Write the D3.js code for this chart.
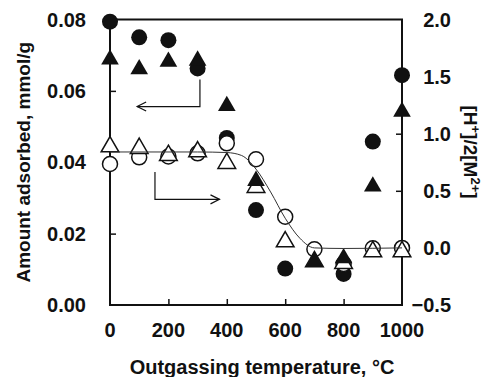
<!DOCTYPE html>
<html>
<head>
<meta charset="utf-8">
<script src="https://cdn.jsdelivr.net/npm/d3@7"></script>
<style>
  body { margin: 0; background: #fff; }
  text { font-family: "Liberation Sans", Arial, sans-serif; font-weight: bold; fill: #111; }
</style>
</head>
<body>
<svg id="chart"></svg>
<script>
const width = 488;
const height = 377;
const margin = { top: 19.5, right: 86, bottom: 72, left: 110 };

// outgassing temperature, deg C
const temps = [0, 100, 200, 300, 400, 500, 600, 700, 800, 900, 1000];

// amount adsorbed (left axis), filled markers
const adsCircle = [0.0794, 0.075, 0.0742, 0.0663, 0.0468, 0.0266, 0.0102, null, 0.0087, 0.0458, 0.0644];
const adsTriangle = [0.0688, 0.0661, 0.0682, 0.0685, 0.0558, 0.0348, null, 0.0121, 0.0131, 0.0332, 0.0542];

// [H+]/2[M2+] (right axis), open markers
const ratioCircle = [0.735, 0.793, 0.80, 0.828, 0.916, 0.776, 0.273, -0.012, -0.14, -0.004, 0.0];
const ratioTriangle = [0.886, 0.872, 0.81, 0.842, 0.74, 0.53, 0.054, -0.12, -0.135, -0.033, -0.033];

// fitted curve
const fitTemps = [0, 300, 400, 450, 500, 550, 600, 650, 700, 800, 1000];
const fitRatio = [0.84, 0.84, 0.835, 0.81, 0.69, 0.49, 0.26, 0.085, 0.0, -0.005, 0.0];

const xTicks = [0, 200, 400, 600, 800, 1000];
const yLeftTicks = [0, 0.02, 0.04, 0.06, 0.08];
const yRightTicks = [-0.5, 0, 0.5, 1.0, 1.5, 2.0];

const svg = d3.select("#chart").attr("width", width).attr("height", height);

const x = d3.scaleLinear().domain([0, 1000]).range([margin.left, width - margin.right]);
const yL = d3.scaleLinear().domain([0, 0.08]).range([height - margin.bottom, margin.top]);
const yR = d3.scaleLinear().domain([-0.5, 2.0]).range([height - margin.bottom, margin.top]);

const x0 = margin.left, x1 = width - margin.right;
const yTop = margin.top, yBot = height - margin.bottom;

// axes: tick marks drawn inward, labels separately
const inner = 6;

svg.append("g")
  .attr("transform", `translate(0,${yBot})`)
  .call(d3.axisTop(x).tickValues(xTicks.slice(1, -1)).tickSize(inner).tickFormat(""))
  .call((g) => g.select(".domain").remove())
  .call((g) => g.selectAll("line").attr("stroke", "#111").attr("stroke-width", 1.5));

svg.append("g")
  .attr("transform", `translate(${x0},0)`)
  .call(d3.axisRight(yL).tickValues(yLeftTicks.slice(1, -1)).tickSize(inner).tickFormat(""))
  .call((g) => g.select(".domain").remove())
  .call((g) => g.selectAll("line").attr("stroke", "#111").attr("stroke-width", 1.5));

svg.append("g")
  .attr("transform", `translate(${x1},0)`)
  .call(d3.axisLeft(yR).tickValues(yRightTicks.slice(1, -1)).tickSize(inner).tickFormat(""))
  .call((g) => g.select(".domain").remove())
  .call((g) => g.selectAll("line").attr("stroke", "#111").attr("stroke-width", 1.5));

// frame
svg.append("rect")
  .attr("x", x0).attr("y", yTop)
  .attr("width", x1 - x0).attr("height", yBot - yTop)
  .attr("fill", "none").attr("stroke", "#111").attr("stroke-width", 2);

// tick labels
svg.selectAll(".xLabel")
  .data(xTicks)
  .join("text")
  .attr("class", "xLabel")
  .attr("x", (d) => x(d))
  .attr("y", yBot + 32)
  .attr("text-anchor", "middle")
  .attr("font-size", 20)
  .text((d) => d);

svg.selectAll(".yLLabel")
  .data(yLeftTicks)
  .join("text")
  .attr("class", "yLLabel")
  .attr("x", x0 - 24)
  .attr("y", (d) => yL(d) + 7)
  .attr("text-anchor", "end")
  .attr("font-size", 20)
  .text((d) => d3.format(".2f")(d));

svg.selectAll(".yRLabel")
  .data(yRightTicks)
  .join("text")
  .attr("class", "yRLabel")
  .attr("x", x1 + 49)
  .attr("y", (d) => yR(d) + 7)
  .attr("text-anchor", "end")
  .attr("font-size", 20)
  .text((d) => d3.format(".1f")(d));

// axis titles
svg.append("text")
  .attr("x", (x0 + x1) / 2 + 6)
  .attr("y", height - 3)
  .attr("text-anchor", "middle")
  .attr("font-size", 20)
  .text("Outgassing temperature, °C");

svg.append("text")
  .attr("transform", `translate(30,${(yTop + yBot) / 2}) rotate(-90)`)
  .attr("text-anchor", "middle")
  .attr("font-size", 19)
  .text("Amount adsorbed, mmol/g");

const rTitle = svg.append("text")
  .attr("transform", `translate(464,152) rotate(90)`)
  .attr("text-anchor", "middle")
  .attr("font-size", 19);
rTitle.append("tspan").text("[H");
rTitle.append("tspan").attr("baseline-shift", "super").attr("font-size", 13).text("+");
rTitle.append("tspan").text("]/2[M");
rTitle.append("tspan").attr("baseline-shift", "super").attr("font-size", 13).text("2+");
rTitle.append("tspan").text("]");

// arrows (data units)
const arrowLeft = [[308, 0.0632], [308, 0.0556], [93, 0.0556]];
const arrowRight = [[154, 0.0373], [154, 0.0296], [375, 0.0296]];

const line = d3.line().x((d) => x(d[0])).y((d) => yL(d[1]));
[arrowLeft, arrowRight].forEach((pts) => {
  svg.append("path")
    .attr("d", line(pts))
    .attr("fill", "none").attr("stroke", "#111").attr("stroke-width", 1.2);
  const end = pts[pts.length - 1];
  const dir = Math.sign(pts[pts.length - 1][0] - pts[pts.length - 2][0]);
  const ex = x(end[0]), ey = yL(end[1]);
  svg.append("path")
    .attr("d", `M${ex - dir * 9},${ey - 4.5}L${ex},${ey}L${ex - dir * 9},${ey + 4.5}`)
    .attr("fill", "none").attr("stroke", "#111").attr("stroke-width", 1.2);
});

const tri = d3.symbol().type(d3.symbolTriangle).size(135);

const pts = (vals) => temps.map((t, i) => [t, vals[i]]).filter((d) => d[1] != null);

// filled circles
svg.selectAll(".fc")
  .data(pts(adsCircle))
  .join("circle")
  .attr("class", "fc")
  .attr("cx", (d) => x(d[0]))
  .attr("cy", (d) => yL(d[1]))
  .attr("r", 8)
  .attr("fill", "#111");

// open circles
svg.selectAll(".oc")
  .data(pts(ratioCircle))
  .join("circle")
  .attr("class", "oc")
  .attr("cx", (d) => x(d[0]))
  .attr("cy", (d) => yR(d[1]))
  .attr("r", 7.5)
  .attr("fill", "#fff")
  .attr("stroke", "#111")
  .attr("stroke-width", 1.5);

// open triangles
svg.selectAll(".ot")
  .data(pts(ratioTriangle))
  .join("path")
  .attr("class", "ot")
  .attr("d", tri)
  .attr("transform", (d) => `translate(${x(d[0])},${yR(d[1])})`)
  .attr("fill", "#fff")
  .attr("stroke", "#111")
  .attr("stroke-width", 1.5);

// filled triangles
svg.selectAll(".ft")
  .data(pts(adsTriangle))
  .join("path")
  .attr("class", "ft")
  .attr("d", tri)
  .attr("transform", (d) => `translate(${x(d[0])},${yL(d[1])})`)
  .attr("fill", "#111");

// fitted curve on top
svg.append("path")
  .datum(fitTemps.map((t, i) => [t, fitRatio[i]]))
  .attr("d", d3.line().x((d) => x(d[0])).y((d) => yR(d[1])).curve(d3.curveMonotoneX))
  .attr("fill", "none")
  .attr("stroke", "#333")
  .attr("stroke-width", 1);
</script>
</body>
</html>
